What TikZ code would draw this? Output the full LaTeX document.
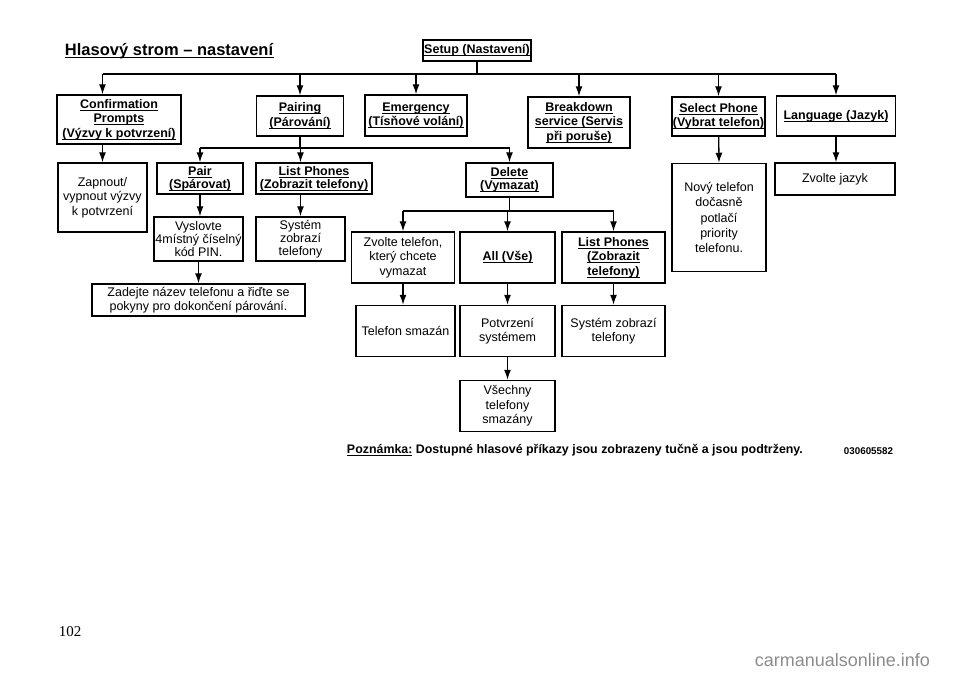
\documentclass[tikz,border=0pt]{standalone}
\usepackage{fontspec}
\setmainfont{Liberation Sans}
\newfontfamily\pagefont{Liberation Serif}
\usetikzlibrary{arrows.meta}

\newsavebox{\cmdbox}
\newcommand{\cmdtxt}[1]{\leavevmode\sbox{\cmdbox}{\textbf{#1}}%
    \rlap{\vrule height -1.5pt depth 2.4pt width \wd\cmdbox}\usebox{\cmdbox}}

\begin{document}
\begin{tikzpicture}[x=1pt, y=-1pt, line width=1.3pt,
    >={Latex[length=10pt,width=7pt]},
    box/.style={draw, line width=1.5pt, align=center, inner sep=1pt,
        font=\fontsize{12.5}{14.5}\selectfont},
    tight/.style={font=\fontsize{12.5}{13.2}\selectfont},
    every node/.style={text=black}]

        \useasboundingbox (0,0) rectangle (960,678);

        % title and root
        \node[anchor=west, font=\fontsize{16.5}{19}\selectfont] (title) at (61,51) {\cmdtxt{Hlasový strom – nastavení}};
        \node[box, minimum width=108pt, minimum height=21pt] (setup) at (477,50.5) {\cmdtxt{Setup (Nastavení)}};

        % level one
        \node[box, minimum width=124pt, minimum height=49pt] (conf) at (119,119.5) {\cmdtxt{Confirmation}\\\cmdtxt{Prompts}\\\cmdtxt{(Výzvy k potvrzení)}};
        \node[box, minimum width=87pt, minimum height=40pt] (pairing) at (300,116) {\cmdtxt{Pairing}\\\cmdtxt{(Párování)}};
        \node[box, minimum width=102pt, minimum height=41pt] (emerg) at (416,115.5) {\cmdtxt{Emergency}\\\cmdtxt{(Tísňové volání)}};
        \node[box, minimum width=102pt, minimum height=51pt] (breakdown) at (579,122.5) {\cmdtxt{Breakdown}\\\cmdtxt{service (Servis}\\\cmdtxt{při poruše)}};
        \node[box, minimum width=93pt, minimum height=39pt] (selphone) at (718.5,116.5) {\cmdtxt{Select Phone}\\\cmdtxt{(Vybrat telefon)}};
        \node[box, minimum width=119pt, minimum height=40pt] (language) at (836,116) {\cmdtxt{Language (Jazyk)}};

        % level two
        \node[box, minimum width=89pt, minimum height=69pt] (zapnout) at (102.5,197.5) {Zapnout/\\vypnout výzvy\\k potvrzení};
        \node[box, tight, minimum width=86pt, minimum height=31pt] (pair) at (200,178.5) {\cmdtxt{Pair}\\\cmdtxt{(Spárovat)}};
        \node[box, tight, minimum width=116pt, minimum height=31pt] (listph) at (314,178.5) {\cmdtxt{List Phones}\\\cmdtxt{(Zobrazit telefony)}};
        \node[box, tight, minimum width=87pt, minimum height=34pt] (delete) at (509.5,180) {\cmdtxt{Delete}\\\cmdtxt{(Vymazat)}};
        \node[box, minimum width=94pt, minimum height=108pt, font=\fontsize{12.5}{15.3}\selectfont] (novy) at (719,217.5) {Nový telefon\\dočasně\\potlačí\\priority\\telefonu.};
        \node[box, minimum width=120pt, minimum height=32pt] (jazyk) at (835,179) {Zvolte jazyk};

        % pairing branch
        \node[box, tight, minimum width=89pt, minimum height=44pt] (vyslovte) at (198.5,239) {Vyslovte\\4místný číselný\\kód PIN.};
        \node[box, tight, minimum width=89pt, minimum height=44pt] (systzob) at (300.5,239) {Systém\\zobrazí\\telefony};
        \node[box, minimum width=213pt, minimum height=32pt] (zadejte) at (198.5,300) {Zadejte název telefonu a řiďte se\\pokyny pro dokončení párování.};

        % delete branch
        \node[box, minimum width=103pt, minimum height=51pt] (zvolte) at (403,257.5) {Zvolte telefon,\\který chcete\\vymazat};
        \node[box, minimum width=95pt, minimum height=51pt] (all) at (507.5,257.5) {\cmdtxt{All (Vše)}};
        \node[box, minimum width=103pt, minimum height=51pt] (listphb) at (613.5,257.5) {\cmdtxt{List Phones}\\\cmdtxt{(Zobrazit}\\\cmdtxt{telefony)}};
        \node[box, minimum width=99pt, minimum height=51pt] (smazan) at (405.5,331) {Telefon smazán};
        \node[box, minimum width=95pt, minimum height=51pt] (potvrz) at (507.5,331) {Potvrzení\\systémem};
        \node[box, minimum width=103pt, minimum height=51pt] (systzobb) at (613.5,331) {Systém zobrazí\\telefony};
        \node[box, minimum width=95pt, minimum height=51pt] (vsechny) at (507.5,406) {Všechny\\telefony\\smazány};

        % note
        \node[anchor=west, font=\fontsize{12.4}{14}\selectfont\bfseries] (note) at (343,450) {\cmdtxt{Poznámka:} Dostupné hlasové příkazy jsou zobrazeny tučně a jsou podtrženy.};
        \node[anchor=west, font=\fontsize{9.8}{11}\selectfont\bfseries] (code) at (840,451) {030605582};
        \node[font=\pagefont\fontsize{15}{17}\selectfont] (page) at (70,632) {102};
        \node[anchor=east, text=black!45, font=\fontsize{18}{20}\selectfont] (mark) at (934,660) {carmanualsonline.info};

        % connectors
        \coordinate (busa) at (477,74);
        \coordinate (busb) at (301,148);
        \coordinate (busc) at (509,211);

        \draw (setup.south) -- (busa);
        \draw (busa -| zapnout) -- (busa -| language);
        \draw [->] (busa -| zapnout) -- (conf.north -| zapnout);
        \foreach \n in {pairing, emerg, breakdown, selphone, language}
            \draw [->] (busa -| \n) -- (\n.north);

        \draw [->] (conf.south -| zapnout) -- (zapnout.north);
        \draw [->] (selphone) -- (novy.north);
        \draw [->] (language.south) -- (language.south |- jazyk.north);

        \draw (pairing.south) -- (pairing.south |- busb);
        \draw (busb -| pair) -- (busb -| delete);
        \draw [->] (busb -| pair) -- (pair.north);
        \draw [->] (busb -| systzob) -- (listph.north -| systzob);
        \draw [->] (busb -| delete) -- (delete.north);

        \draw [->] (pair.south) -- (pair.south |- vyslovte.north);
        \draw [->] (listph.south -| systzob) -- (systzob.north);
        \draw [->] (vyslovte.south) -- (vyslovte.south |- zadejte.north);

        \draw (delete.south) -- (delete.south |- busc);
        \draw (busc -| zvolte) -- (busc -| listphb);
        \foreach \n in {zvolte, all, listphb}
            \draw [->] (busc -| \n) -- (\n.north);

        \draw [->] (zvolte.south) -- (zvolte.south |- smazan.north);
        \draw [->] (all.south) -- (potvrz.north);
        \draw [->] (listphb.south) -- (systzobb.north);
        \draw [->] (potvrz.south) -- (vsechny.north);

\end{tikzpicture}
\end{document}
